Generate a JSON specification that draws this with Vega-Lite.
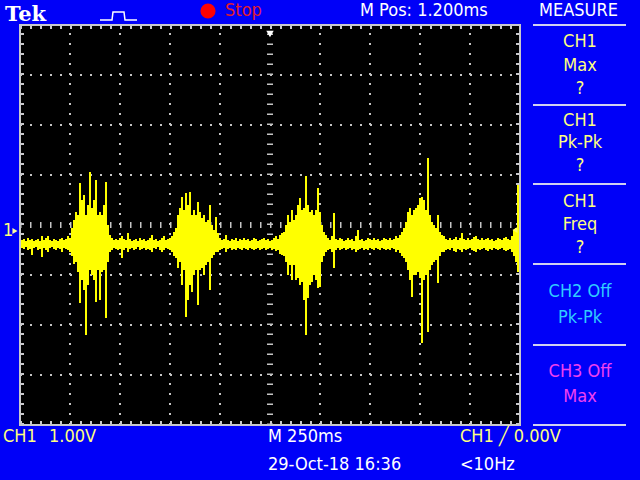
{
"$schema": "https://vega.github.io/schema/vega-lite/v6.json",
"width": 640, "height": 480,
"autosize": {"type": "none"},
"padding": 0,
"background": "#0000f8",
"config": {"view": {"stroke": null}},
"datasets": {
"wave": [
{"t":10,"hi":-0.30,"lo":-0.46},{"t":20,"hi":-0.28,"lo":-0.48},{"t":30,"hi":-0.32,"lo":-0.44},{"t":40,"hi":-0.26,"lo":-0.50},{"t":50,"hi":-0.30,"lo":-0.48},
{"t":60,"hi":-0.28,"lo":-0.60},{"t":70,"hi":-0.32,"lo":-0.46},{"t":80,"hi":-0.30,"lo":-0.44},{"t":90,"hi":-0.28,"lo":-0.50},{"t":100,"hi":-0.32,"lo":-0.48},
{"t":110,"hi":-0.22,"lo":-0.64},{"t":120,"hi":-0.30,"lo":-0.46},{"t":130,"hi":-0.26,"lo":-0.50},{"t":140,"hi":-0.22,"lo":-0.54},{"t":150,"hi":-0.30,"lo":-0.46},
{"t":160,"hi":-0.32,"lo":-0.44},{"t":170,"hi":-0.28,"lo":-0.48},{"t":180,"hi":-0.30,"lo":-0.50},{"t":190,"hi":-0.32,"lo":-0.46},{"t":200,"hi":-0.28,"lo":-0.48},
{"t":210,"hi":-0.26,"lo":-0.54},{"t":220,"hi":-0.30,"lo":-0.46},{"t":230,"hi":-0.28,"lo":-0.48},{"t":240,"hi":-0.22,"lo":-0.50},{"t":250,"hi":-0.26,"lo":-0.54},
{"t":260,"hi":-0.06,"lo":-0.62},{"t":270,"hi":0.10,"lo":-0.78},{"t":280,"hi":0.26,"lo":-0.74},{"t":290,"hi":0.20,"lo":-0.94},{"t":300,"hi":0.84,"lo":-1.56},
{"t":310,"hi":0.50,"lo":-1.10},{"t":320,"hi":0.60,"lo":-1.30},{"t":330,"hi":0.20,"lo":-2.20},{"t":340,"hi":0.40,"lo":-1.20},{"t":350,"hi":1.06,"lo":-0.90},
{"t":360,"hi":0.34,"lo":-1.00},{"t":370,"hi":0.50,"lo":-1.10},{"t":380,"hi":0.90,"lo":-1.54},{"t":390,"hi":0.20,"lo":-0.90},{"t":400,"hi":0.26,"lo":-1.50},
{"t":410,"hi":0.20,"lo":-0.94},{"t":420,"hi":0.40,"lo":-0.90},{"t":430,"hi":0.86,"lo":-1.86},{"t":440,"hi":0.00,"lo":-0.74},{"t":450,"hi":-0.20,"lo":-0.54},
{"t":460,"hi":-0.26,"lo":-0.50},{"t":470,"hi":-0.30,"lo":-0.46},{"t":480,"hi":-0.28,"lo":-0.48},{"t":490,"hi":-0.30,"lo":-0.50},{"t":500,"hi":-0.26,"lo":-0.48},
{"t":510,"hi":-0.22,"lo":-0.66},{"t":520,"hi":-0.28,"lo":-0.50},{"t":530,"hi":-0.30,"lo":-0.46},{"t":540,"hi":-0.16,"lo":-0.54},{"t":550,"hi":-0.28,"lo":-0.48},
{"t":560,"hi":-0.32,"lo":-0.46},{"t":570,"hi":-0.30,"lo":-0.50},{"t":580,"hi":-0.28,"lo":-0.48},{"t":590,"hi":-0.32,"lo":-0.44},{"t":600,"hi":-0.26,"lo":-0.50},
{"t":610,"hi":-0.30,"lo":-0.48},{"t":620,"hi":-0.28,"lo":-0.46},{"t":630,"hi":-0.32,"lo":-0.50},{"t":640,"hi":-0.30,"lo":-0.48},{"t":650,"hi":-0.26,"lo":-0.50},
{"t":660,"hi":-0.20,"lo":-0.54},{"t":670,"hi":-0.30,"lo":-0.46},{"t":680,"hi":-0.28,"lo":-0.48},{"t":690,"hi":-0.32,"lo":-0.44},{"t":700,"hi":-0.30,"lo":-0.50},
{"t":710,"hi":-0.26,"lo":-0.54},{"t":720,"hi":-0.22,"lo":-0.50},{"t":730,"hi":-0.30,"lo":-0.46},{"t":740,"hi":-0.28,"lo":-0.48},{"t":750,"hi":-0.26,"lo":-0.50},
{"t":760,"hi":-0.22,"lo":-0.54},{"t":770,"hi":-0.14,"lo":-0.62},
{"t":780,"hi":-0.06,"lo":-0.66},{"t":790,"hi":0.20,"lo":-0.86},{"t":800,"hi":0.34,"lo":-0.74},{"t":810,"hi":0.56,"lo":-1.20},{"t":820,"hi":0.30,"lo":-0.90},
{"t":830,"hi":0.64,"lo":-1.84},{"t":840,"hi":0.40,"lo":-1.50},{"t":850,"hi":0.66,"lo":-1.20},{"t":860,"hi":0.20,"lo":-1.34},{"t":870,"hi":0.30,"lo":-1.00},
{"t":880,"hi":0.20,"lo":-0.90},{"t":890,"hi":0.46,"lo":-1.60},{"t":900,"hi":0.26,"lo":-0.90},{"t":910,"hi":0.14,"lo":-0.86},{"t":920,"hi":0.20,"lo":-1.00},
{"t":930,"hi":0.06,"lo":-0.80},{"t":940,"hi":0.10,"lo":-0.74},{"t":950,"hi":0.40,"lo":-1.30},{"t":960,"hi":0.00,"lo":-0.66},{"t":970,"hi":-0.10,"lo":-0.60},
{"t":980,"hi":0.16,"lo":-0.54},{"t":990,"hi":-0.16,"lo":-0.54},
{"t":1000,"hi":-0.26,"lo":-0.50},{"t":1010,"hi":-0.30,"lo":-0.48},{"t":1020,"hi":-0.28,"lo":-0.46},{"t":1030,"hi":-0.20,"lo":-0.54},{"t":1040,"hi":-0.30,"lo":-0.48},
{"t":1050,"hi":-0.32,"lo":-0.46},{"t":1060,"hi":-0.28,"lo":-0.50},{"t":1070,"hi":-0.30,"lo":-0.48},{"t":1080,"hi":-0.26,"lo":-0.50},{"t":1090,"hi":-0.32,"lo":-0.46},
{"t":1100,"hi":-0.28,"lo":-0.48},{"t":1110,"hi":-0.30,"lo":-0.50},{"t":1120,"hi":-0.26,"lo":-0.46},{"t":1130,"hi":-0.30,"lo":-0.48},{"t":1140,"hi":-0.28,"lo":-0.50},
{"t":1150,"hi":-0.32,"lo":-0.46},{"t":1160,"hi":-0.30,"lo":-0.48},{"t":1170,"hi":-0.26,"lo":-0.50},{"t":1180,"hi":-0.28,"lo":-0.48},{"t":1190,"hi":-0.32,"lo":-0.46},
{"t":1200,"hi":-0.30,"lo":-0.50},{"t":1210,"hi":-0.28,"lo":-0.48},{"t":1220,"hi":-0.26,"lo":-0.46},{"t":1230,"hi":-0.30,"lo":-0.50},{"t":1240,"hi":-0.28,"lo":-0.48},
{"t":1250,"hi":-0.32,"lo":-0.46},{"t":1260,"hi":-0.30,"lo":-0.50},{"t":1270,"hi":-0.26,"lo":-0.48},{"t":1280,"hi":-0.22,"lo":-0.52},{"t":1290,"hi":-0.28,"lo":-0.50},
{"t":1300,"hi":-0.20,"lo":-0.58},{"t":1310,"hi":-0.16,"lo":-0.60},
{"t":1320,"hi":-0.14,"lo":-0.62},{"t":1330,"hi":0.00,"lo":-0.74},{"t":1340,"hi":0.20,"lo":-1.00},{"t":1350,"hi":0.06,"lo":-0.80},{"t":1360,"hi":0.30,"lo":-1.10},
{"t":1370,"hi":0.10,"lo":-0.80},{"t":1380,"hi":0.20,"lo":-1.10},{"t":1390,"hi":0.40,"lo":-1.06},{"t":1400,"hi":0.54,"lo":-1.20},{"t":1410,"hi":0.30,"lo":-1.14},
{"t":1420,"hi":0.34,"lo":-1.50},{"t":1430,"hi":0.98,"lo":-2.20},{"t":1440,"hi":0.40,"lo":-1.46},{"t":1450,"hi":0.26,"lo":-1.20},{"t":1460,"hi":0.30,"lo":-1.14},
{"t":1470,"hi":0.20,"lo":-1.00},{"t":1480,"hi":0.30,"lo":-1.10},{"t":1490,"hi":0.74,"lo":-1.26},{"t":1500,"hi":0.26,"lo":-1.24},{"t":1510,"hi":0.00,"lo":-0.74},
{"t":1520,"hi":-0.14,"lo":-0.62},
{"t":1530,"hi":-0.20,"lo":-0.54},{"t":1540,"hi":-0.26,"lo":-0.50},{"t":1550,"hi":-0.30,"lo":-0.48},{"t":1560,"hi":-0.22,"lo":-0.54},{"t":1570,"hi":0.24,"lo":-0.86},
{"t":1580,"hi":-0.28,"lo":-0.50},{"t":1590,"hi":-0.30,"lo":-0.46},{"t":1600,"hi":-0.26,"lo":-0.50},{"t":1610,"hi":-0.28,"lo":-0.48},{"t":1620,"hi":-0.32,"lo":-0.46},
{"t":1630,"hi":-0.30,"lo":-0.50},{"t":1640,"hi":-0.26,"lo":-0.48},{"t":1650,"hi":-0.30,"lo":-0.46},{"t":1660,"hi":-0.28,"lo":-0.50},{"t":1670,"hi":-0.32,"lo":-0.48},
{"t":1680,"hi":-0.22,"lo":-0.54},{"t":1690,"hi":-0.10,"lo":-0.50},{"t":1700,"hi":-0.30,"lo":-0.48},{"t":1710,"hi":-0.28,"lo":-0.46},{"t":1720,"hi":-0.32,"lo":-0.50},
{"t":1730,"hi":-0.30,"lo":-0.48},{"t":1740,"hi":-0.26,"lo":-0.50},{"t":1750,"hi":-0.28,"lo":-0.46},{"t":1760,"hi":-0.30,"lo":-0.48},{"t":1770,"hi":-0.26,"lo":-0.50},
{"t":1780,"hi":-0.30,"lo":-0.46},{"t":1790,"hi":-0.28,"lo":-0.48},{"t":1800,"hi":-0.32,"lo":-0.50},{"t":1810,"hi":-0.30,"lo":-0.46},{"t":1820,"hi":-0.26,"lo":-0.48},
{"t":1830,"hi":-0.28,"lo":-0.50},{"t":1840,"hi":-0.30,"lo":-0.48},{"t":1850,"hi":-0.26,"lo":-0.50},{"t":1860,"hi":-0.30,"lo":-0.46},{"t":1870,"hi":-0.28,"lo":-0.48},
{"t":1880,"hi":-0.22,"lo":-0.54},{"t":1890,"hi":-0.26,"lo":-0.50},{"t":1900,"hi":-0.20,"lo":-0.56},{"t":1910,"hi":-0.14,"lo":-0.62},
{"t":1920,"hi":-0.06,"lo":-0.66},{"t":1930,"hi":0.06,"lo":-0.74},{"t":1940,"hi":0.26,"lo":-0.90},{"t":1950,"hi":0.34,"lo":-1.10},{"t":1960,"hi":0.20,"lo":-1.44},
{"t":1970,"hi":0.30,"lo":-1.00},{"t":1980,"hi":0.34,"lo":-1.00},{"t":1990,"hi":0.40,"lo":-0.94},{"t":2000,"hi":0.54,"lo":-1.06},{"t":2010,"hi":0.56,"lo":-2.36},
{"t":2020,"hi":0.50,"lo":-1.10},{"t":2030,"hi":0.30,"lo":-1.00},{"t":2040,"hi":1.34,"lo":-2.14},{"t":2050,"hi":0.20,"lo":-0.90},{"t":2060,"hi":0.06,"lo":-0.80},
{"t":2070,"hi":0.00,"lo":-0.74},{"t":2080,"hi":-0.06,"lo":-0.70},{"t":2090,"hi":0.20,"lo":-1.16},{"t":2100,"hi":-0.14,"lo":-0.62},{"t":2110,"hi":-0.20,"lo":-0.54},
{"t":2120,"hi":-0.22,"lo":-0.54},{"t":2130,"hi":-0.28,"lo":-0.50},{"t":2140,"hi":-0.30,"lo":-0.48},{"t":2150,"hi":-0.26,"lo":-0.50},{"t":2160,"hi":-0.30,"lo":-0.46},
{"t":2170,"hi":-0.28,"lo":-0.52},{"t":2180,"hi":-0.24,"lo":-0.54},{"t":2190,"hi":-0.30,"lo":-0.48},{"t":2200,"hi":-0.26,"lo":-0.50},{"t":2210,"hi":-0.16,"lo":-0.54},
{"t":2220,"hi":-0.28,"lo":-0.48},{"t":2230,"hi":-0.30,"lo":-0.50},{"t":2240,"hi":-0.26,"lo":-0.48},{"t":2250,"hi":-0.30,"lo":-0.46},{"t":2260,"hi":-0.28,"lo":-0.50},
{"t":2270,"hi":-0.24,"lo":-0.52},{"t":2280,"hi":-0.22,"lo":-0.54},{"t":2290,"hi":-0.28,"lo":-0.48},{"t":2300,"hi":-0.30,"lo":-0.50},{"t":2310,"hi":-0.26,"lo":-0.48},
{"t":2320,"hi":-0.30,"lo":-0.46},{"t":2330,"hi":-0.28,"lo":-0.50},{"t":2340,"hi":-0.26,"lo":-0.52},{"t":2350,"hi":-0.30,"lo":-0.48},{"t":2360,"hi":-0.28,"lo":-0.50},
{"t":2370,"hi":-0.32,"lo":-0.46},{"t":2380,"hi":-0.30,"lo":-0.48},{"t":2390,"hi":-0.26,"lo":-0.50},{"t":2400,"hi":-0.28,"lo":-0.48},{"t":2410,"hi":-0.30,"lo":-0.46},
{"t":2420,"hi":-0.26,"lo":-0.50},{"t":2430,"hi":-0.24,"lo":-0.52},{"t":2440,"hi":-0.28,"lo":-0.50},{"t":2450,"hi":-0.30,"lo":-0.48},{"t":2460,"hi":-0.22,"lo":-0.54},
{"t":2470,"hi":-0.10,"lo":-0.62},{"t":2480,"hi":-0.06,"lo":-0.74},{"t":2490,"hi":0.80,"lo":-0.94}
],
"screen": [{"t":0,"t2":2500,"v":-4,"v2":4}],
"vgrid": [{"t":250},{"t":500},{"t":750},{"t":1000},{"t":1500},{"t":1750},{"t":2000},{"t":2250}],
"hgrid": [{"v":-3},{"v":-2},{"v":-1},{"v":1},{"v":2},{"v":3}],
"seps": [{"v":4},{"v":2.4},{"v":0.82},{"v":-0.78},{"v":-2.4},{"v":-4}],
"icon": [{"o":1,"t":400,"v":4.1},{"o":2,"t":460,"v":4.1},{"o":3,"t":465,"v":4.26},{"o":4,"t":520,"v":4.26},{"o":5,"t":525,"v":4.1},{"o":6,"t":585,"v":4.1}]
},
"layer": [
{"data":{"name":"screen"},"mark":{"type":"rect","fill":"#000000","stroke":"#c8c8cc","strokeWidth":2},
 "encoding":{"x":{"field":"t","type":"quantitative","scale":{"domain":[-100,3100],"nice":false,"zero":false},"axis":null},"x2":{"field":"t2"},
 "y":{"field":"v","type":"quantitative","scale":{"domain":[-5.1,4.5],"nice":false,"zero":false},"axis":null},"y2":{"field":"v2"}}},
{"data":{"name":"vgrid"},"mark":{"type":"rule","color":"#c4c4c4","strokeWidth":2,"strokeDash":[2,8]},
 "encoding":{"x":{"field":"t","type":"quantitative","scale":{"domain":[-100,3100],"nice":false,"zero":false},"axis":null},
 "y":{"datum":-4,"type":"quantitative","scale":{"domain":[-5.1,4.5],"nice":false,"zero":false},"axis":null},"y2":{"datum":4}}},
{"data":{"name":"hgrid"},"mark":{"type":"rule","color":"#c4c4c4","strokeWidth":2,"strokeDash":[2,8]},
 "encoding":{"y":{"field":"v","type":"quantitative","scale":{"domain":[-5.1,4.5],"nice":false,"zero":false},"axis":null},
 "x":{"datum":0,"type":"quantitative","scale":{"domain":[-100,3100],"nice":false,"zero":false},"axis":null},"x2":{"datum":2500}}},
{"data":{"values":[{}]},"mark":{"type":"rule","color":"#c4c4c4","strokeWidth":6,"strokeDash":[1.5,8.5]},
 "encoding":{"y":{"datum":0,"type":"quantitative","scale":{"domain":[-5.1,4.5],"nice":false,"zero":false},"axis":null},
 "x":{"datum":0,"type":"quantitative","scale":{"domain":[-100,3100],"nice":false,"zero":false},"axis":null},"x2":{"datum":2500}}},
{"data":{"values":[{}]},"mark":{"type":"rule","color":"#c4c4c4","strokeWidth":6,"strokeDash":[1.5,8.5]},
 "encoding":{"x":{"datum":1250,"type":"quantitative","scale":{"domain":[-100,3100],"nice":false,"zero":false},"axis":null},
 "y":{"datum":-4,"type":"quantitative","scale":{"domain":[-5.1,4.5],"nice":false,"zero":false},"axis":null},"y2":{"datum":4}}},
{"data":{"values":[{"v":3.96},{"v":-3.96}]},"mark":{"type":"rule","color":"#c8c8cc","strokeWidth":4,"strokeDash":[2,8]},
 "encoding":{"y":{"field":"v","type":"quantitative","scale":{"domain":[-5.1,4.5],"nice":false,"zero":false},"axis":null},
 "x":{"datum":0,"type":"quantitative","scale":{"domain":[-100,3100],"nice":false,"zero":false},"axis":null},"x2":{"datum":2500}}},
{"data":{"values":[{"t":10},{"t":2490}]},"mark":{"type":"rule","color":"#c8c8cc","strokeWidth":4,"strokeDash":[2,8]},
 "encoding":{"x":{"field":"t","type":"quantitative","scale":{"domain":[-100,3100],"nice":false,"zero":false},"axis":null},
 "y":{"datum":-4,"type":"quantitative","scale":{"domain":[-5.1,4.5],"nice":false,"zero":false},"axis":null},"y2":{"datum":4}}},
{"data":{"name":"wave"},"mark":{"type":"rule","color":"#ffff00","strokeWidth":2},
 "encoding":{"x":{"field":"t","type":"quantitative","scale":{"domain":[-100,3100],"nice":false,"zero":false},"axis":null},
 "y":{"field":"hi","type":"quantitative","scale":{"domain":[-5.1,4.5],"nice":false,"zero":false},"axis":null},"y2":{"field":"lo"}}},
{"data":{"name":"seps"},"mark":{"type":"rule","color":"#d0d0f0","strokeWidth":2},
 "encoding":{"y":{"field":"v","type":"quantitative","scale":{"domain":[-5.1,4.5],"nice":false,"zero":false},"axis":null},
 "x":{"datum":2565,"type":"quantitative","scale":{"domain":[-100,3100],"nice":false,"zero":false},"axis":null},"x2":{"datum":3030}}},
{"data":{"name":"icon"},"mark":{"type":"line","color":"#ffffff","strokeWidth":1.5},
 "encoding":{"x":{"field":"t","type":"quantitative","scale":{"domain":[-100,3100],"nice":false,"zero":false},"axis":null},
 "y":{"field":"v","type":"quantitative","scale":{"domain":[-5.1,4.5],"nice":false,"zero":false},"axis":null},"order":{"field":"o"}}},
{"data":{"values":[{"t":940,"v":4.28}]},"mark":{"type":"point","shape":"circle","filled":true,"color":"#ff0000","size":230,"opacity":1},
 "encoding":{"x":{"field":"t","type":"quantitative","scale":{"domain":[-100,3100],"nice":false,"zero":false},"axis":null},
 "y":{"field":"v","type":"quantitative","scale":{"domain":[-5.1,4.5],"nice":false,"zero":false},"axis":null}}},
{"data":{"values":[{"t":1250,"v":3.82}]},"mark":{"type":"point","shape":"triangle-down","filled":true,"color":"#ffffff","size":55,"opacity":1},
 "encoding":{"x":{"field":"t","type":"quantitative","scale":{"domain":[-100,3100],"nice":false,"zero":false},"axis":null},
 "y":{"field":"v","type":"quantitative","scale":{"domain":[-5.1,4.5],"nice":false,"zero":false},"axis":null}}},
{"data":{"values":[{"t":-25,"v":-0.12}]},"mark":{"type":"point","shape":"triangle-right","filled":true,"color":"#ffffa0","size":35,"opacity":1},
 "encoding":{"x":{"field":"t","type":"quantitative","scale":{"domain":[-100,3100],"nice":false,"zero":false},"axis":null},
 "y":{"field":"v","type":"quantitative","scale":{"domain":[-5.1,4.5],"nice":false,"zero":false},"axis":null}}},
{"data":{"values":[{"t":2475,"v":-0.1}]},"mark":{"type":"point","shape":"triangle-left","filled":true,"color":"#ffff60","size":35,"opacity":1},
 "encoding":{"x":{"field":"t","type":"quantitative","scale":{"domain":[-100,3100],"nice":false,"zero":false},"axis":null},
 "y":{"field":"v","type":"quantitative","scale":{"domain":[-5.1,4.5],"nice":false,"zero":false},"axis":null}}},
{"data":{"values":[{"t":-75,"v":4.08,"label":"Tek"}]},"mark":{"type":"text","align":"left","baseline":"alphabetic","font":"DejaVu Serif","fontWeight":"bold","fontSize":21,"color":"#ffffff"},
 "encoding":{"x":{"field":"t","type":"quantitative","scale":{"domain":[-100,3100],"nice":false,"zero":false},"axis":null},
 "y":{"field":"v","type":"quantitative","scale":{"domain":[-5.1,4.5],"nice":false,"zero":false},"axis":null},"text":{"field":"label"}}},
{"data":{"values":[{"t":1025,"v":4.28,"label":"Stop"}]},"mark":{"type":"text","align":"left","baseline":"middle","font":"Liberation Sans Narrow, DejaVu Sans Condensed, Liberation Sans","fontSize":18,"color":"#e01e2c"},
 "encoding":{"x":{"field":"t","type":"quantitative","scale":{"domain":[-100,3100],"nice":false,"zero":false},"axis":null},
 "y":{"field":"v","type":"quantitative","scale":{"domain":[-5.1,4.5],"nice":false,"zero":false},"axis":null},"text":{"field":"label"}}},
{"data":{"values":[{"t":1700,"v":4.28,"label":"M Pos: 1.200ms"},{"t":2595,"v":4.28,"label":"MEASURE"},{"t":1240,"v":-4.24,"label":"M 250ms"},{"t":1240,"v":-4.8,"label":"29-Oct-18 16:36"},{"t":2200,"v":-4.8,"label":"<10Hz"}]},
 "mark":{"type":"text","align":"left","baseline":"middle","font":"Liberation Sans Narrow, DejaVu Sans Condensed, Liberation Sans","fontSize":18,"color":"#ffffff"},
 "encoding":{"x":{"field":"t","type":"quantitative","scale":{"domain":[-100,3100],"nice":false,"zero":false},"axis":null},
 "y":{"field":"v","type":"quantitative","scale":{"domain":[-5.1,4.5],"nice":false,"zero":false},"axis":null},"text":{"field":"label"}}},
{"data":{"values":[{"t":-85,"v":-4.24,"label":"CH1"},{"t":145,"v":-4.24,"label":"1.00V"},{"t":2200,"v":-4.24,"label":"CH1 ╱ 0.00V"},{"t":-85,"v":-0.12,"label":"1"}]},
 "mark":{"type":"text","align":"left","baseline":"middle","font":"Liberation Sans Narrow, DejaVu Sans Condensed, Liberation Sans","fontSize":18,"color":"#ffff80"},
 "encoding":{"x":{"field":"t","type":"quantitative","scale":{"domain":[-100,3100],"nice":false,"zero":false},"axis":null},
 "y":{"field":"v","type":"quantitative","scale":{"domain":[-5.1,4.5],"nice":false,"zero":false},"axis":null},"text":{"field":"label"}}},
{"data":{"values":[{"t":2800,"v":3.66,"label":"CH1"},{"t":2800,"v":3.18,"label":"Max"},{"t":2800,"v":2.72,"label":"?"},{"t":2800,"v":2.08,"label":"CH1"},{"t":2800,"v":1.64,"label":"Pk-Pk"},{"t":2800,"v":1.18,"label":"?"},{"t":2800,"v":0.46,"label":"CH1"},{"t":2800,"v":0.0,"label":"Freq"},{"t":2800,"v":-0.46,"label":"?"}]},
 "mark":{"type":"text","align":"center","baseline":"middle","font":"Liberation Sans Narrow, DejaVu Sans Condensed, Liberation Sans","fontSize":18,"color":"#ffff80"},
 "encoding":{"x":{"field":"t","type":"quantitative","scale":{"domain":[-100,3100],"nice":false,"zero":false},"axis":null},
 "y":{"field":"v","type":"quantitative","scale":{"domain":[-5.1,4.5],"nice":false,"zero":false},"axis":null},"text":{"field":"label"}}},
{"data":{"values":[{"t":2800,"v":-1.34,"label":"CH2 Off"},{"t":2800,"v":-1.86,"label":"Pk-Pk"}]},
 "mark":{"type":"text","align":"center","baseline":"middle","font":"Liberation Sans Narrow, DejaVu Sans Condensed, Liberation Sans","fontSize":18,"color":"#30ccff"},
 "encoding":{"x":{"field":"t","type":"quantitative","scale":{"domain":[-100,3100],"nice":false,"zero":false},"axis":null},
 "y":{"field":"v","type":"quantitative","scale":{"domain":[-5.1,4.5],"nice":false,"zero":false},"axis":null},"text":{"field":"label"}}},
{"data":{"values":[{"t":2800,"v":-2.94,"label":"CH3 Off"},{"t":2800,"v":-3.44,"label":"Max"}]},
 "mark":{"type":"text","align":"center","baseline":"middle","font":"Liberation Sans Narrow, DejaVu Sans Condensed, Liberation Sans","fontSize":18,"color":"#f040f0"},
 "encoding":{"x":{"field":"t","type":"quantitative","scale":{"domain":[-100,3100],"nice":false,"zero":false},"axis":null},
 "y":{"field":"v","type":"quantitative","scale":{"domain":[-5.1,4.5],"nice":false,"zero":false},"axis":null},"text":{"field":"label"}}}
]
}
